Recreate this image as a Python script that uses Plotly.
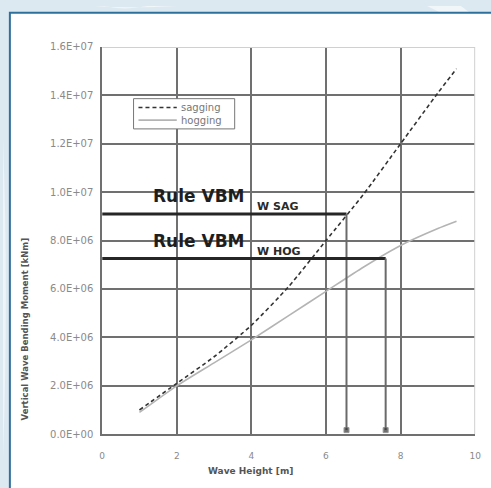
import plotly.graph_objects as go

# Wave height [m] and vertical wave bending moment [kNm]
wave_height = [1, 2, 3, 4, 5, 6, 7, 8, 9, 9.5]
sagging = [1.0e6, 2.1e6, 3.2e6, 4.5e6, 6.1e6, 8.0e6, 9.9e6, 12.0e6, 14.1e6, 15.1e6]
hogging = [0.9e6, 2.0e6, 2.95e6, 3.9e6, 4.9e6, 5.9e6, 6.9e6, 7.8e6, 8.5e6, 8.8e6]

# Rule values and the wave heights they correspond to
rule_sag_moment = 9.1e6
rule_sag_height = 6.55
rule_hog_moment = 7.26e6
rule_hog_height = 7.6

x_ticks = [0, 2, 4, 6, 8, 10]
x_tick_labels = ["0", "2", "4", "6", "8", "10"]
y_ticks = [0, 2e6, 4e6, 6e6, 8e6, 1.0e7, 1.2e7, 1.4e7, 1.6e7]
y_tick_labels = ["0.0E+00", "2.0E+06", "4.0E+06", "6.0E+06", "8.0E+06",
                 "1.0E+07", "1.2E+07", "1.4E+07", "1.6E+07"]

W, H = 491, 488
X_MAX, Y_MAX = 10, 1.6e7

SAG_LINE = dict(color="#333333", width=1.6, dash="4px,3px")
HOG_LINE = dict(color="#b4b4b4", width=1.6)

fig = go.Figure()

fig.add_trace(go.Scatter(
    x=wave_height, y=sagging, mode="lines", name="sagging", showlegend=False,
    line=dict(shape="spline", smoothing=0.6, **SAG_LINE),
))
fig.add_trace(go.Scatter(
    x=wave_height, y=hogging, mode="lines", name="hogging", showlegend=False,
    line=dict(shape="spline", smoothing=0.6, **HOG_LINE),
))

# Rule VBM guide lines: horizontal to the curve, then down to the axis
for moment, height in [(rule_sag_moment, rule_sag_height), (rule_hog_moment, rule_hog_height)]:
    fig.add_trace(go.Scatter(
        x=[0, height], y=[moment, moment], mode="lines", showlegend=False,
        line=dict(color="#262626", width=3), hoverinfo="skip",
    ))
    fig.add_trace(go.Scatter(
        x=[height, height], y=[moment, 0.17e6], mode="lines+markers", showlegend=False,
        line=dict(color="#6a6a6a", width=2),
        marker=dict(symbol="square", size=[0, 5], color="#333333"),
        hoverinfo="skip",
    ))


def px(x):
    return x / W


def py(y):
    return 1 - y / H


shapes = [
    # soft swooshes in the backdrop
    dict(type="path", xref="paper", yref="paper", layer="below",
         path="M 0.19 1 Q 0.26 0.995 0.36 1 L 0.30 1 Q 0.25 0.99 0.21 1 Z",
         fillcolor="rgba(255,255,255,0.6)", line=dict(width=0)),
    dict(type="path", xref="paper", yref="paper", layer="below",
         path="M 0.88 1 L 0.95 1 L 0.97 0.985 L 0.91 0.985 Z",
         fillcolor="rgba(255,255,255,0.6)", line=dict(width=0)),
    dict(type="path", xref="paper", yref="paper", layer="below",
         path="M 0 0.72 Q 0.012 0.4 0 0.05 L 0 0.72 Z",
         fillcolor="rgba(255,255,255,0.5)", line=dict(width=0)),
    # white panel with blue frame
    dict(type="rect", xref="paper", yref="paper", layer="below",
         x0=px(7), x1=1.02, y0=-0.02, y1=py(7),
         fillcolor="white", line=dict(color="#2f6f9c", width=2)),
    # light frame on the top and right of the plot area
    dict(type="line", xref="x", yref="y", x0=0, x1=X_MAX, y0=Y_MAX, y1=Y_MAX,
         line=dict(color="#d0d0d0", width=2)),
    dict(type="line", xref="x", yref="y", x0=X_MAX, x1=X_MAX, y0=0, y1=Y_MAX,
         line=dict(color="#d0d0d0", width=2)),
    # legend box and line samples
    dict(type="rect", xref="paper", yref="paper",
         x0=px(133), x1=px(236), y0=py(126), y1=py(95),
         fillcolor="white", line=dict(color="#777777", width=1)),
    dict(type="line", xref="paper", yref="paper",
         x0=px(138), x1=px(177), y0=py(104), y1=py(104), line=SAG_LINE),
    dict(type="line", xref="paper", yref="paper",
         x0=px(138), x1=px(177), y0=py(117), y1=py(117), line=HOG_LINE),
]

annotations = []
for name, y in [("sagging", 104), ("hogging", 117)]:
    annotations.append(dict(
        x=px(179), y=py(y), xref="paper", yref="paper", text=name,
        showarrow=False, xanchor="left", yanchor="middle",
        font=dict(family="DejaVu Sans", size=10, color="#777777"),
    ))

for moment_text_y, sub_y, sub in [(9.85e6, 9.4e6, "W SAG"), (8.0e6, 7.55e6, "W HOG")]:
    annotations.append(dict(
        x=1.3, y=moment_text_y, xref="x", yref="y", text="Rule VBM",
        showarrow=False, xanchor="left", yanchor="middle",
        font=dict(family="DejaVu Sans", size=17, color="#1e1e1e", weight="bold"),
    ))
    annotations.append(dict(
        x=4.1, y=sub_y, xref="x", yref="y", text=sub,
        showarrow=False, xanchor="left", yanchor="middle",
        font=dict(family="DejaVu Sans", size=11, color="#2a2a2a", weight="bold"),
    ))

annotations.append(dict(
    x=px(252), y=py(477), xref="paper", yref="paper", text="Wave Height [m]",
    showarrow=False, xanchor="center", yanchor="middle",
    font=dict(family="DejaVu Sans", size=9, color="#555555", weight="bold"),
))
annotations.append(dict(
    x=px(22), y=py(331), xref="paper", yref="paper",
    text="Vertical Wave Bending Moment [kNm]", textangle=-90,
    showarrow=False, xanchor="center", yanchor="middle",
    font=dict(family="DejaVu Sans", size=8.5, color="#555555", weight="bold"),
))

fig.update_layout(
    width=W, height=H,
    margin=dict(l=0, r=0, t=0, b=0),
    paper_bgcolor="#dde9f1",
    plot_bgcolor="white",
    shapes=shapes,
    annotations=annotations,
    showlegend=False,
    xaxis=dict(
        domain=[px(101), px(481)], range=[0, X_MAX],
        tickmode="array", tickvals=x_ticks, ticktext=x_tick_labels,
        showgrid=True, gridcolor="#707070", gridwidth=1.6,
        showline=True, linecolor="#707070", linewidth=1.6,
        zeroline=False, ticks="", ticklabelstandoff=12,
        tickfont=dict(family="DejaVu Sans", size=9, color="#8a8a8a"),
    ),
    yaxis=dict(
        domain=[(H - 439) / H, (H - 42) / H], range=[0, Y_MAX],
        tickmode="array", tickvals=y_ticks, ticktext=y_tick_labels,
        showgrid=True, gridcolor="#707070", gridwidth=1.6,
        showline=True, linecolor="#707070", linewidth=1.6,
        zeroline=False, ticks="", ticklabelstandoff=5,
        tickfont=dict(family="DejaVu Sans", size=10, color="#8a8a8a"),
    ),
)

fig.write_html("out.html")
